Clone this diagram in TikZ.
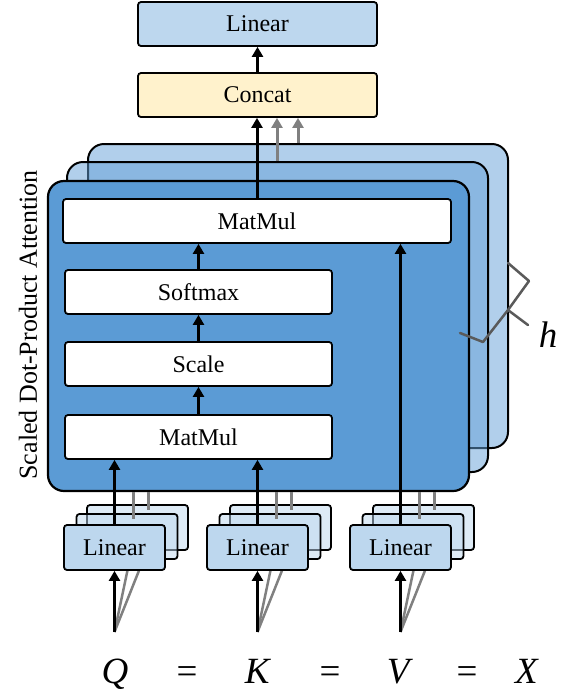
\documentclass[tikz,border=0pt]{standalone}
\usepackage{fontspec}
\setmainfont{Liberation Serif}
\usetikzlibrary{arrows.meta,calc}
\definecolor{linblue}{RGB}{189,215,238}
\definecolor{concaty}{RGB}{255,242,204}
\definecolor{panelsemi}{RGB}{99,160,215}
\definecolor{panelfront}{RGB}{91,155,213}
\definecolor{arrgray}{RGB}{128,128,128}
\definecolor{bracegray}{RGB}{90,90,90}
\newcommand\bxfont{\fontsize{24}{28}\selectfont}
\begin{document}
\begin{tikzpicture}[x=1pt,y=-1pt,
  box/.style={draw, line width=1.8pt, rounded corners=3pt, inner sep=0pt, font=\bxfont, minimum height=44pt},
  whitebox/.style={box, fill=white},
  linbox/.style={box, fill=linblue, minimum width=101pt, minimum height=45pt},
  linback/.style={draw, line width=1.8pt, rounded corners=3pt, fill=linblue, fill opacity=0.5, minimum width=101pt, minimum height=45pt, inner sep=0pt},
  panelback/.style={draw, line width=2pt, rounded corners=16pt, fill=panelsemi, fill opacity=0.5, inner sep=0pt},
  panelfr/.style={draw, line width=2.2pt, rounded corners=16pt, fill=panelfront, inner sep=0pt},
  arr/.style={-{Triangle[width=11pt,length=10pt]}, line width=3pt},
  garr/.style={arr, draw=arrgray},
  gline/.style={line width=3pt, draw=arrgray},
  lbl/.style={font=\fontsize{37}{40}\selectfont, anchor=base, inner sep=0pt}
]
\useasboundingbox (0,0) rectangle (563,694);

% top boxes
\node[box, fill=linblue, minimum width=239pt] (lin) at (257.5,24) {Linear};
\node[box, fill=concaty, minimum width=239pt] (concat) at (257.5,95) {Concat};

% panels
\node[panelback, minimum width=420pt, minimum height=304pt] (p3) at (298,296) {};
\node[panelback, minimum width=421pt, minimum height=310pt] (p2) at (277.5,317) {};
\node[panelfr, minimum width=421pt, minimum height=310pt] (p1) at (258.5,336) {};

% inner boxes
\node[whitebox, minimum width=388pt] (mm1) at (257,221) {MatMul};
\node[whitebox, minimum width=267pt] (soft) at (198.5,292) {Softmax};
\node[whitebox, minimum width=267pt] (scale) at (198.5,364) {Scale};
\node[whitebox, minimum width=267pt] (mm2) at (198.5,437) {MatMul};

\draw[arr] (mm2.north) -- (mm2.north |- scale.south);
\draw[arr] (scale.north) -- (scale.north |- soft.south);
\draw[arr] (soft.north) -- (soft.north |- mm1.south);

% out of the heads into concat
\coordinate (ga) at ($(mm1.north)+(20,0)$);
\coordinate (gb) at ($(mm1.north)+(41,0)$);
\draw[garr] (ga |- p2.north) -- (ga |- concat.south);
\draw[garr] (gb |- p3.north) -- (gb |- concat.south);
\draw[arr] (mm1.north) -- (mm1.north |- concat.south);
\draw[arr] (concat.north) -- (lin.south);

% bottom linear stacks
\foreach \n/\cx in {q/114.5, k/257.5, v/400.5}{
  \coordinate (\n in) at (\cx,632);
  \coordinate (\n g2) at (\cx+15.5,558.5);
  \coordinate (\n g3) at (\cx+32.5,550.5);
  \draw[gline, line width=2.5pt] (\n in) -- (\n g2);
  \draw[gline, line width=2.5pt] (\n in) -- (\n g3);
  \node[linback] (\n3) at (\cx+23,527.5) {};
  \node[linback] (\n2) at (\cx+12.5,536.5) {};
  \node[linbox] (\n1) at (\cx,547.5) {Linear};
  \coordinate (\n a) at ($(\n1.north)+(18.5,0)$);
  \coordinate (\n b) at ($(\n1.north)+(33.5,0)$);
  \draw[gline] (\n a |- p1.south) -- ($(\n a |- \n2.north)+(0,6)$);
  \draw[gline] (\n b |- p1.south) -- ($(\n b |- \n3.north)+(0,6)$);
  \draw[arr] (\n in) -- (\n1.south);
}

\draw[arr] (q1.north) -- (q1.north |- mm2.south);
\draw[arr] (k1.north) -- (k1.north |- mm2.south);
\draw[arr] (v1.north) -- (v1.north |- mm1.south);

% brace and h
\draw[bracegray, line width=2.5pt, line join=round, line cap=round]
  (508,263) -- (529,281) -- (508,310) -- (483,342) -- (460,333);
\draw[bracegray, line width=2.5pt, line cap=round] (508,310) -- (528,325);
\node[lbl] (hlbl) at (548,347) {\textit{h}};

% side label
\node[rotate=90, font=\fontsize{26}{30}\selectfont, inner sep=0pt] (side) at (28,325) {Scaled Dot-Product Attention};

% equation
\node[lbl] (lq) at (115,683) {\textit{Q}};
\node[lbl] (e1) at (187,683) {=};
\node[lbl] (lk) at (258,683) {\textit{K}};
\node[lbl] (e2) at (330,683) {=};
\node[lbl] (lv) at (400,683) {\textit{V}};
\node[lbl] (e3) at (467,683) {=};
\node[lbl] (lx) at (527,683) {\textit{X}};
\end{tikzpicture}
\end{document}
